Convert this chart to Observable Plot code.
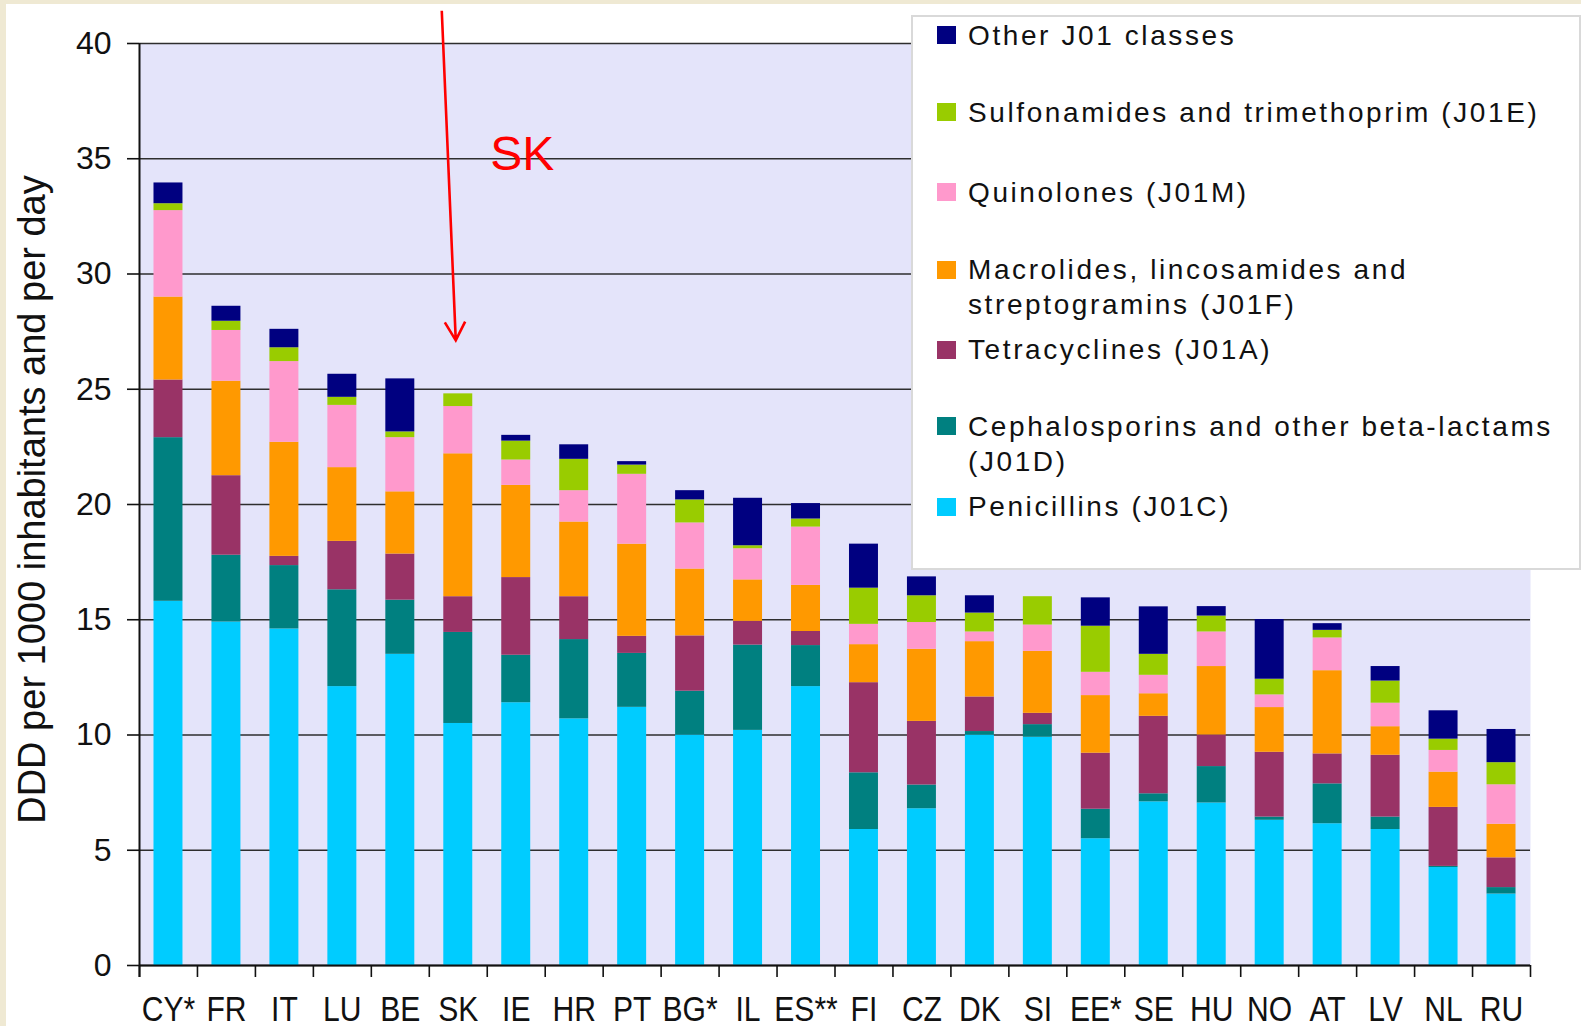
<!DOCTYPE html>
<html><head><meta charset="utf-8">
<script src="https://cdn.jsdelivr.net/npm/d3@7"></script>
<script src="https://cdn.jsdelivr.net/npm/@observablehq/plot@0.6"></script>
<style>
html,body{margin:0;padding:0;overflow:hidden;background:#efe9d3;width:1581px;height:1026px;}
#page{position:absolute;left:6px;top:4px;width:1575px;height:1022px;background:#fff;}
#chart{position:absolute;left:0;top:0;width:1581px;height:1026px;}
#legend{position:absolute;left:911px;top:15px;width:666px;height:551px;background:#fff;border:2px solid #d9d9d9;font-family:"Liberation Sans",Arial,sans-serif;font-size:28px;letter-spacing:2.6px;color:#111;}
.item{position:absolute;left:55px;line-height:35px;white-space:nowrap;}
.sw{position:absolute;left:24px;width:19px;height:18px;}
</style></head><body>
<div id="page"></div><div id="chart"></div><div id="legend"></div>
<script>
const countries = ["CY*","FR","IT","LU","BE","SK","IE","HR","PT","BG*","IL","ES**","FI","CZ","DK","SI","EE*","SE","HU","NO","AT","LV","NL","RU"];
const classes = ["Penicillins (J01C)","Cephalosporins and other beta-lactams (J01D)","Tetracyclines (J01A)","Macrolides, lincosamides and streptogramins (J01F)","Quinolones (J01M)","Sulfonamides and trimethoprim (J01E)","Other J01 classes"];
const colors = ["#00ccff","#008080","#993366","#ff9900","#ff99cc","#99cc00","#000080"];

const penicillins   = [15.8,14.9,14.6,12.1,13.5,10.5,11.4,10.7,11.2,10.0,10.2,12.1,5.9,6.8,10.0,9.9,5.5,7.1,7.05,6.3,6.15,5.9,4.25,3.1];
const cephalosporins= [7.1,2.9,2.75,4.2,2.35,3.95,2.06,3.44,2.34,1.9,3.7,1.78,2.46,1.03,0.15,0.55,1.28,0.35,1.58,0.14,1.73,0.54,0.05,0.28];
const tetracyclines = [2.5,3.45,0.4,2.1,2.0,1.55,3.37,1.86,0.74,2.4,1.03,0.61,3.91,2.76,1.5,0.49,2.43,3.36,1.37,2.81,1.3,2.68,2.56,1.29];
const macrolides    = [3.6,4.1,4.95,3.2,2.7,6.2,4.0,3.24,4.0,2.9,1.8,2.0,1.65,3.13,2.4,2.69,2.5,0.98,2.97,1.94,3.61,1.24,1.53,1.46];
const quinolones    = [3.75,2.2,3.5,2.7,2.35,2.05,1.1,1.36,3.03,2.0,1.35,2.53,0.88,1.16,0.42,1.14,1.01,0.8,1.5,0.55,1.42,1.02,0.94,1.71];
const sulfonamides  = [0.3,0.4,0.6,0.35,0.25,0.55,0.82,1.36,0.4,1.0,0.13,0.35,1.57,1.16,0.82,1.23,2.0,0.91,0.69,0.68,0.33,0.96,0.49,0.96];
const otherJ01      = [0.9,0.65,0.8,1.0,2.3,0,0.25,0.63,0.15,0.4,2.06,0.67,1.91,0.82,0.75,0,1.23,2.06,0.41,2.59,0.29,0.63,1.23,1.44];
const yTicks = [0,5,10,15,20,25,30,35,40];
const yLabel = "DDD per 1000 inhabitants and per day";
const annotation = {country:"SK", label:"SK", textValue:35.2, arrowFrom:41.4, arrowTo:27.1};

const legendItems = [
  {cls:6, lines:["Other J01 classes"], c:35.3},
  {cls:5, lines:["Sulfonamides and trimethoprim (J01E)"], c:112.3},
  {cls:4, lines:["Quinolones (J01M)"], c:192.2},
  {cls:3, lines:["Macrolides, lincosamides and","streptogramins (J01F)"], c:269.5},
  {cls:2, lines:["Tetracyclines (J01A)"], c:349.8},
  {cls:1, lines:["Cephalosporins and other beta-lactams","(J01D)"], c:426.3},
  {cls:0, lines:["Penicillins (J01C)"], c:506.8}
];

const series = [penicillins,cephalosporins,tetracyclines,macrolides,quinolones,sulfonamides,otherJ01];
const table = [];
countries.forEach((c,i)=>classes.forEach((k,j)=>table.push({country:c, cls:k, value:series[j][i]})));

const W=1581,H=1026,ML=139,MR=51,MT=43,MB=61;
const step=(W-ML-MR)/countries.length;

function arrowMark(index, scales){
  const sx=scales.x, sy=scales.y;
  let bw=0;
  try{ if(typeof sx.bandwidth==="function") bw=sx.bandwidth(); else if(scales.scales&&scales.scales.x&&scales.scales.x.bandwidth) bw=scales.scales.x.bandwidth; }catch(e){}
  const cx=sx(annotation.country)+bw/2;
  const x0=cx-16, y0=sy(annotation.arrowFrom), x1=cx-2, y1=sy(annotation.arrowTo);
  const ang=Math.atan2(y1-y0,x1-x0), L=21, a=29*Math.PI/180;
  const w1=[x1-L*Math.cos(ang-a), y1-L*Math.sin(ang-a)];
  const w2=[x1-L*Math.cos(ang+a), y1-L*Math.sin(ang+a)];
  const p=document.createElementNS("http://www.w3.org/2000/svg","path");
  p.setAttribute("d",`M${x0},${y0}L${x1},${y1}M${w1[0]},${w1[1]}L${x1},${y1}L${w2[0]},${w2[1]}`);
  p.setAttribute("stroke","#ff0000");p.setAttribute("stroke-width","2.6");p.setAttribute("fill","none");
  return p;
}

const chart = Plot.plot({
  width:W, height:H, marginLeft:ML, marginRight:MR, marginTop:MT, marginBottom:MB,
  style:{fontFamily:'"Liberation Sans",Arial,sans-serif', background:"transparent", color:"#111", overflow:"visible"},
  x:{type:"band", domain:countries, paddingInner:0.5, paddingOuter:0.25, round:false},
  y:{domain:[0,40]},
  color:{domain:classes, range:colors},
  marks:[
    Plot.frame({fill:"#e4e4fa", stroke:null}),
    Plot.ruleY(yTicks, {stroke:"#2e2e2e", strokeWidth:1.6}),
    Plot.barY(table, {x:"country", y:"value", fill:"cls"}),
    Plot.ruleY([0], {stroke:"#111", strokeWidth:2}),
    Plot.axisY({ticks:yTicks, tickSize:12, tickPadding:16, fontSize:32, tickFormat:d=>String(d), label:null, strokeWidth:1.6}),
    Plot.axisX({tickSize:0, tickPadding:31, fontSize:35, label:null}),
    Plot.ruleX(countries, {x:d=>d, dx:-step/2, y1:0, y2:-0.52, stroke:"#111", strokeWidth:1.6}),
    Plot.ruleX([countries[countries.length-1]], {x:d=>d, dx:step/2, y1:0, y2:-0.52, stroke:"#111", strokeWidth:1.6}),
    Plot.ruleX([countries[0]], {x:d=>d, dx:-step/2, y1:-0.52, y2:40, stroke:"#111", strokeWidth:2}),
    Plot.text([yLabel], {text:d=>d, frameAnchor:"left", textAnchor:"middle", rotate:-90, dx:-107, dy:-5, fontSize:38, fill:"#111"}),
    Plot.text([annotation], {x:"country", y:"textValue", text:"label", dx:32, textAnchor:"start", fill:"#ff0000", fontSize:48}),
    arrowMark
  ]
});
document.getElementById("chart").appendChild(chart);

// condensed look of the category labels
d3.select(chart).selectAll('g[aria-label="x-axis tick label"] text').each(function(){
  const xa=this.getAttribute("x"), t=this.getAttribute("transform")||"";
  const xn=parseFloat(xa);
  let pre="";
  if(xa!==null && isFinite(xn) && !/em$/.test(xa)){ pre=` translate(${xn},0)`; this.setAttribute("x",0); }
  this.setAttribute("transform",`${t}${pre} scale(0.86,1)`);
});

const lg=document.getElementById("legend");
legendItems.forEach(it=>{
  const top=it.c-15-2-17.5;
  const sw=document.createElement("div");sw.className="sw";sw.style.top=(it.c-15-2-9)+"px";sw.style.background=colors[it.cls];
  lg.appendChild(sw);
  const t=document.createElement("div");t.className="item";t.style.top=top+"px";t.innerHTML=it.lines.join("<br>");
  lg.appendChild(t);
});
</script></body></html>
